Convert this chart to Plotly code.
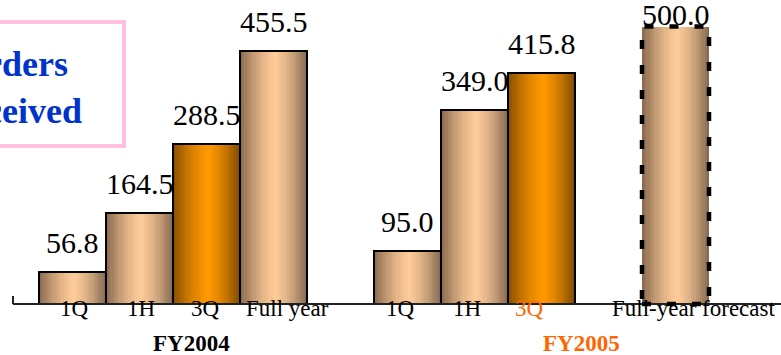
import plotly.graph_objects as go

# ---------------- data ----------------
categories = ["1Q", "1H", "3Q", "Full year", "1Q", "1H", "3Q", "Full-year forecast"]
values = [56.8, 164.5, 288.5, 455.5, 95.0, 349.0, 415.8, 500.0]
bar_kind = ["peach", "peach", "orange", "peach", "peach", "peach", "orange", "peach"]
value_labels = ["56.8", "164.5", "288.5", "455.5", "95.0", "349.0", "415.8", "500.0"]
groups = ["FY2004", "FY2005"]
title_lines = ["Orders", "Received"]

# ---------------- layout / style ----------------
slot = [0, 1, 2, 3, 5, 6, 7, 9]          # slot index of each bar along the axis
forecast_idx = 7                          # dashed bar
label_shift_px = [2, 1, -1, 14, -7, -8, -12, 18]
value_shift_px = [11, 11, 11, 11, 11, 11, 11, -7]
label_colors = ["black"] * 6 + ["#FF6600", "black"]
group_center = [1.78, 7.60]
group_colors = ["black", "#FF6600"]

W, H = 781, 355
FONT = "Liberation Serif"

grad = {
    "peach": ((0x86, 0x66, 0x4C), (0xFF, 0xCC, 0x99), (0x80, 0x66, 0x50)),
    "orange": ((0x84, 0x4C, 0x00), (0xFF, 0x99, 0x00), (0x7A, 0x48, 0x00)),
}


def shade(kind, t):
    left, mid, right = grad[kind]
    peak = 0.52
    if t <= peak:
        u = t / peak
        f = 0.5 * (u + (1 - (1 - u) ** 2))
        c = [l + (m - l) * f for l, m in zip(left, mid)]
    else:
        u = (t - peak) / (1 - peak)
        f = 1 - 0.5 * (u + u ** 2)
        c = [r + (m - r) * f for r, m in zip(right, mid)]
    return "rgb(%d,%d,%d)" % tuple(int(round(v)) for v in c)


fig = go.Figure()

N = 30
for k in range(N):
    t = (k + 0.5) / N
    fig.add_trace(go.Bar(
        x=slot, y=values,
        width=1.0 / N * 1.08,
        offset=-0.5 + k / N,
        marker=dict(color=[shade(kd, t) for kd in bar_kind], line=dict(width=0)),
        hoverinfo="skip", showlegend=False,
    ))

# solid outlines (all except forecast)
solid_x = [s for i, s in enumerate(slot) if i != forecast_idx]
solid_y = [v for i, v in enumerate(values) if i != forecast_idx]
fig.add_trace(go.Bar(
    x=solid_x, y=solid_y, width=1.0,
    marker=dict(color="rgba(0,0,0,0)", line=dict(color="black", width=2)),
    hoverinfo="skip", showlegend=False,
))

# axis geometry (pixel mapping)
x_per_px = 1 / 67.0
x0_range = (0 - 72.5) * x_per_px
x1_range = (W - 72.5) * x_per_px
y_per_px = 1 / 0.555
y_top = 304 * y_per_px
y_bot = -(H - 304) * y_per_px

shapes = []
# baseline axis line + left tick
axis_left = (13 - 72.5) * x_per_px
shapes.append(dict(type="line", xref="x", yref="y", x0=axis_left, x1=x1_range + 1,
                   y0=0, y1=0, line=dict(color="#222222", width=2)))
shapes.append(dict(type="line", xref="x", yref="y", x0=axis_left, x1=axis_left,
                   y0=0, y1=8 * y_per_px, line=dict(color="#222222", width=2)))
# dashed outline of forecast bar
fx = slot[forecast_idx]
fv = values[forecast_idx]
shapes.append(dict(type="rect", xref="x", yref="y", x0=fx - 0.5, x1=fx + 0.5,
                   y0=0, y1=fv, line=dict(color="black", width=4.5, dash="9px,16px")))
# pink title box
shapes.append(dict(type="rect", xref="paper", yref="paper",
                   x0=-98 / W, x1=124 / W, y0=1 - 146 / H, y1=1 - 22 / H,
                   line=dict(color="#FFC0E0", width=4), fillcolor="rgba(0,0,0,0)"))

annotations = []
for s, v, lab, ys in zip(slot, values, value_labels, value_shift_px):
    annotations.append(dict(x=s, y=v, xref="x", yref="y", text=lab, showarrow=False,
                            yanchor="bottom", yshift=ys,
                            font=dict(family=FONT, size=30, color="black")))
for s, c, sh, col in zip(slot, categories, label_shift_px, label_colors):
    annotations.append(dict(x=s, y=0, xref="x", yref="y", text=c, showarrow=False,
                            yanchor="top", yshift=10, xshift=sh,
                            font=dict(family=FONT, size=23, color=col)))
for g, gx, gc in zip(groups, group_center, group_colors):
    annotations.append(dict(x=gx, y=-71, xref="x", yref="y", text="<b>%s</b>" % g,
                            showarrow=False, yanchor="middle",
                            font=dict(family=FONT, size=23, color=gc)))
annotations.append(dict(x=13 / W, y=1 - 87 / H, xref="paper", yref="paper",
                        text="<b>" + "<br>".join(title_lines) + "</b>",
                        showarrow=False, xanchor="center", yanchor="middle", align="center",
                        font=dict(family=FONT, size=36, color="#0033CC")))

fig.update_layout(
    width=W, height=H,
    margin=dict(l=0, r=0, t=0, b=0),
    paper_bgcolor="white", plot_bgcolor="white",
    barmode="overlay", bargap=0,
    xaxis=dict(range=[x0_range, x1_range], visible=False, fixedrange=True),
    yaxis=dict(range=[y_bot, y_top], visible=False, fixedrange=True),
    shapes=shapes, annotations=annotations,
    showlegend=False,
)

fig.write_html("out.html", config={"displayModeBar": False})
